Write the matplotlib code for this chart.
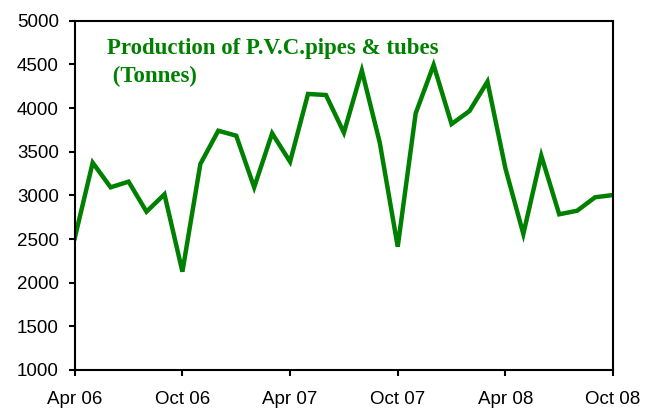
import matplotlib
matplotlib.use("Agg")
from matplotlib import pyplot as plt

# monthly production, Apr 06 .. Oct 08
months = list(range(31))
production = [2510, 3374, 3092, 3157, 2813, 3012, 2126, 3359, 3740, 3683,
              3092, 3710, 3385, 4161, 4149, 3718, 4429, 3603, 2412, 3939,
              4493, 3817, 3966, 4302, 3310, 2558, 3454, 2783, 2824, 2978, 3004]
tick_pos = [0, 6, 12, 18, 24, 30]
tick_labels = ["Apr 06", "Oct 06", "Apr 07", "Oct 07", "Apr 08", "Oct 08"]
y_ticks = list(range(1000, 5001, 500))

fig = plt.figure(figsize=(6.46, 4.11), dpi=100)
ax = fig.add_axes([0.1157, 0.0998, 0.949 - 0.1157, 0.9496 - 0.0998])

ax.plot(months, production, color="#008000", lw=3.2, solid_joinstyle="miter")

ax.set_xlim(0, 30)
ax.set_ylim(1000, 5000)
ax.set_xticks(tick_pos)
ax.set_xticklabels(tick_labels)
ax.set_yticks(y_ticks)
ax.tick_params(direction="out", length=4.5, width=1.5, labelsize=13.5)
ax.tick_params(axis="x", pad=10.5)
ax.tick_params(axis="y", pad=7)
for lbl in ax.get_xticklabels() + ax.get_yticklabels():
    lbl.set_fontfamily("Liberation Sans")
for sp in ax.spines.values():
    sp.set_linewidth(1.5)

# chart title inside the plot area
ax.text(0.059, 0.95, "Production of P.V.C.pipes & tubes\n (Tonnes)",
        transform=ax.transAxes, ha="left", va="top", color="#008000",
        fontsize=16.5, fontweight="bold", family="Liberation Serif",
        linespacing=1.42)

fig.savefig("out.png", dpi=100)
